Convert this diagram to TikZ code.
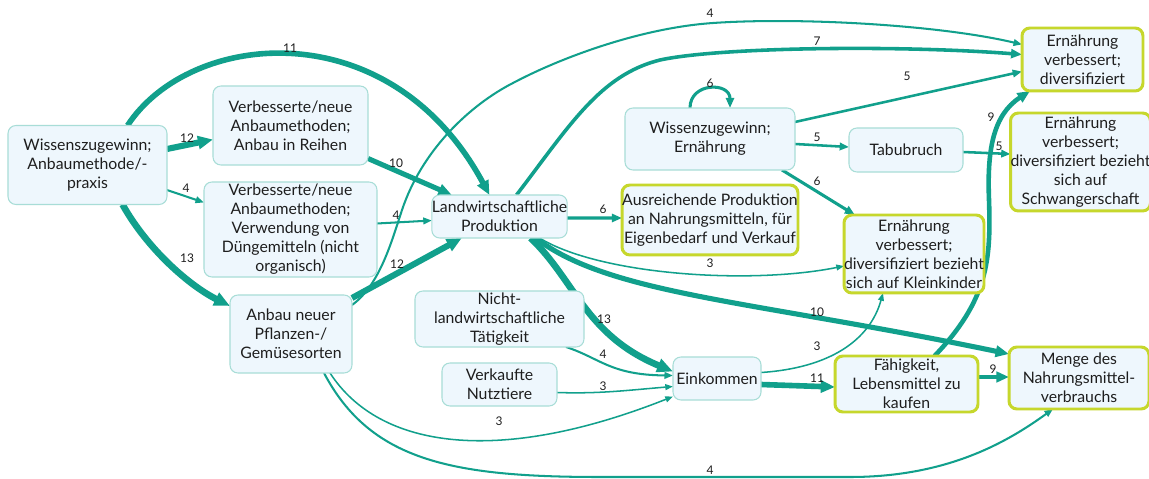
\documentclass[tikz,border=0pt]{standalone}
\usepackage{fontspec}
\setmainfont{Lato}
\usetikzlibrary{arrows.meta,calc}
\definecolor{edgec}{HTML}{11A08C}
\definecolor{nfill}{HTML}{EEF7FD}
\definecolor{nbord}{HTML}{A8DDD7}
\definecolor{ybord}{HTML}{C6D72C}
\definecolor{txt}{HTML}{1E1E1E}
\pgfdeclarelayer{bg}
\pgfsetlayers{bg,main}
\tikzset{
  box/.style={draw=nbord, fill=nfill, rounded corners=4.5pt, line width=0.6pt,
    align=center, inner sep=0pt, outer sep=0pt, text=txt,
    font=\fontsize{9}{10.8}\selectfont},
  ybox/.style={box, draw=ybord, line width=1.7pt},
  lnk/.style={draw=edgec, line width=#1*0.29pt,
    -{Triangle[length=3pt 1.6, width=2pt 1.5]}},
  lbl/.style={font=\fontsize{6.8}{7.5}\selectfont, text=txt, inner sep=0pt},
}
\begin{document}
\begin{tikzpicture}[x=0.02cm,y=-0.02cm]
\useasboundingbox (0,0) rectangle (1149,479);
% nodes
\node[box, minimum width=3.18cm, minimum height=1.58cm] (W1) at (87.5,165) {Wissenszugewinn;\\Anbaumethode/-\\praxis};
\node[box, minimum width=3.10cm, minimum height=1.58cm] (V1) at (290.5,125.5) {Verbesserte/neue\\Anbaumethoden;\\Anbau in Reihen};
\node[box, minimum width=3.46cm, minimum height=1.90cm] (V2) at (290.5,229.5) {Verbesserte/neue\\Anbaumethoden;\\Verwendung von\\Düngemitteln (nicht\\organisch)};
\node[box, minimum width=2.44cm, minimum height=1.56cm] (A) at (291,334) {Anbau neuer\\Pflanzen-/\\Gemüsesorten};
\node[box, minimum width=2.66cm, minimum height=0.86cm] (L) at (499.5,216.5) {Landwirtschaftliche\\Produktion};
\node[box, minimum width=3.40cm, minimum height=1.24cm] (W2) at (710,139) {Wissenzugewinn;\\Ernährung};
\node[box, minimum width=2.28cm, minimum height=0.88cm] (T) at (906,150) {Tabubruch};
\node[ybox, minimum width=3.52cm, minimum height=1.40cm] (AP) at (710,220) {Ausreichende Produktion\\an Nahrungsmitteln, für\\Eigenbedarf und Verkauf};
\node[ybox, minimum width=2.42cm, minimum height=1.26cm] (E1) at (1082.5,59.5) {Ernährung\\verbessert;\\diversifiziert};
\node[ybox, minimum width=2.70cm, minimum height=1.96cm] (E2) at (1080.5,162) {Ernährung\\verbessert;\\diversifiziert bezieht\\sich auf\\Schwangerschaft};
\node[ybox, minimum width=2.72cm, minimum height=1.56cm] (E3) at (914,254) {Ernährung\\verbessert;\\diversifiziert bezieht\\sich auf Kleinkinder};
\node[box, minimum width=3.38cm, minimum height=1.12cm] (NL) at (499.5,319) {Nicht-\\landwirtschaftliche\\Tätigkeit};
\node[box, minimum width=2.30cm, minimum height=0.86cm] (VN) at (499.5,384.5) {Verkaufte\\Nutztiere};
\node[box, minimum width=1.76cm, minimum height=0.86cm] (Ein) at (717,378.5) {Einkommen};
\node[ybox, minimum width=2.86cm, minimum height=1.12cm] (F) at (906.5,384) {Fähigkeit,\\Lebensmittel zu\\kaufen};
\node[ybox, minimum width=2.80cm, minimum height=1.24cm] (M) at (1079,378) {Menge des\\Nahrungsmittel-\\verbrauchs};
% connectors
\begin{pgfonlayer}{bg}
\fill[white] (0,0) rectangle (1149,479);
\draw[lnk=11] ($(W1.north)+(40,0)$) .. controls (190,30) and (390,10) .. ($(L.north)+(-10,0)$) node[lbl] at (290,48) {11};
\draw[lnk=12] ($(W1.east)+(0,-16)$) -- ($(V1.west)+(0,14)$) node[lbl] at (187,138) {12};
\draw[lnk=4] ($(W1.east)+(0,25)$) -- ($(V2.west)+(0,-27)$) node[lbl] at (186,188) {4};
\draw[lnk=13] ($(W1.south)+(35,0)$) .. controls (148,250) and (190,286) .. ($(A.west)+(0,-28)$) node[lbl] at (187,258) {13};
\draw[lnk=10] ($(V1.east)+(0,33)$) -- ($(L.north west)+(20,0)$) node[lbl] at (396,163) {10};
\draw[lnk=4] ($(V2.east)+(0,-6)$) -- ($(L.west)+(0,4)$) node[lbl] at (396,215) {4};
\draw[lnk=12] ($(A.north east)+(0,3)$) -- ($(L.south west)+(30,0)$) node[lbl] at (397,264) {12};
\draw[lnk=4] ($(A.east)+(0,-29)$) .. controls (380,285) and (392,240) .. (402,210)
  .. controls (422,150) and (470,105) .. (513,83)
  .. controls (560,58) and (640,28) .. (713,23)
  .. controls (800,17) and (940,25) .. ($(E1.west)+(0,-15)$) node[lbl] at (710,13) {4};
\draw[lnk=7] ($(L.north)+(17,0)$) .. controls (570,125) and (600,75) .. (660,60)
  .. controls (720,47) and (900,45) .. ($(E1.west)+(0,-5)$) node[lbl] at (817,41) {7};
\draw[lnk=5] ($(W2.east)+(0,-17)$) -- ($(E1.west)+(0,12)$) node[lbl] at (907,76) {5};
\draw[lnk=6] ($(W2.north)+(-20,0)$) .. controls (690,82) and (730,82) .. ($(W2.north)+(20,0)$) node[lbl] at (710,83) {6};
\draw[lnk=5] ($(W2.east)+(0,5)$) -- ($(T.west)+(0,-3)$) node[lbl] at (817,137) {5};
\draw[lnk=5] ($(T.east)+(0,2)$) -- ($(E2.west)+(0,-8)$) node[lbl] at (999,146) {5};
\draw[lnk=6] ($(W2.south east)+(-13,0)$) -- ($(E3.north west)+(11,0)$) node[lbl] at (817,181) {6};
\draw[lnk=6] ($(L.east)+(0,1.5)$) -- ($(AP.west)+(0,-2)$) node[lbl] at (603,209) {6};
\draw[lnk=3] ($(L.south)+(40,0)$) .. controls (600,275) and (750,285) .. ($(E3.west)+(0,12)$) node[lbl] at (710,263) {3};
\draw[lnk=10] ($(L.south)+(36,0)$) .. controls (610,295) and (750,300) .. ($(M.west)+(0,-24)$) node[lbl] at (817,312) {10};
\draw[lnk=13] ($(L.south)+(31,0)$) .. controls (575,280) and (585,335) .. ($(Ein.west)+(0,-7)$) node[lbl] at (604,319) {13};
\draw[lnk=4] ($(NL.south east)+(-18,0)$) .. controls (600,358) and (610,375) .. ($(Ein.west)+(0,-3)$) node[lbl] at (603,354) {4};
\draw[lnk=3] ($(VN.east)+(0,8)$) .. controls (600,394) and (630,390) .. ($(Ein.west)+(0,8)$) node[lbl] at (603,386) {3};
\draw[lnk=3] ($(A.south)+(39,0)$) .. controls (380,450) and (500,465) .. ($(Ein.west)+(0,18)$) node[lbl] at (499,421) {3};
\draw[lnk=4] ($(A.south)+(33,0)$) .. controls (370,460) and (450,477) .. (600,477) -- (850,477)
  .. controls (950,477) and (1010,440) .. ($(M.south)+(-26,0)$) node[lbl] at (710,470) {4};
\draw[lnk=3] ($(Ein.east)+(0,-6)$) .. controls (830,368) and (870,340) .. ($(E3.south)+(-31,0)$) node[lbl] at (817,346) {3};
\draw[lnk=11] ($(Ein.east)+(0,6)$) -- ($(F.west)+(0,3)$) node[lbl] at (817,378) {11};
\draw[lnk=9] ($(F.east)+(0,-7)$) -- ($(M.west)+(0,-1)$) node[lbl] at (993,369) {9};
\draw[lnk=9] ($(F.north)+(28,0)$) .. controls (988,300) and (991,260) .. (989,200)
  .. controls (987,150) and (993,115) .. ($(E1.south west)+(8,0)$) node[lbl] at (991,117) {9};
\end{pgfonlayer}
\end{tikzpicture}
\end{document}
